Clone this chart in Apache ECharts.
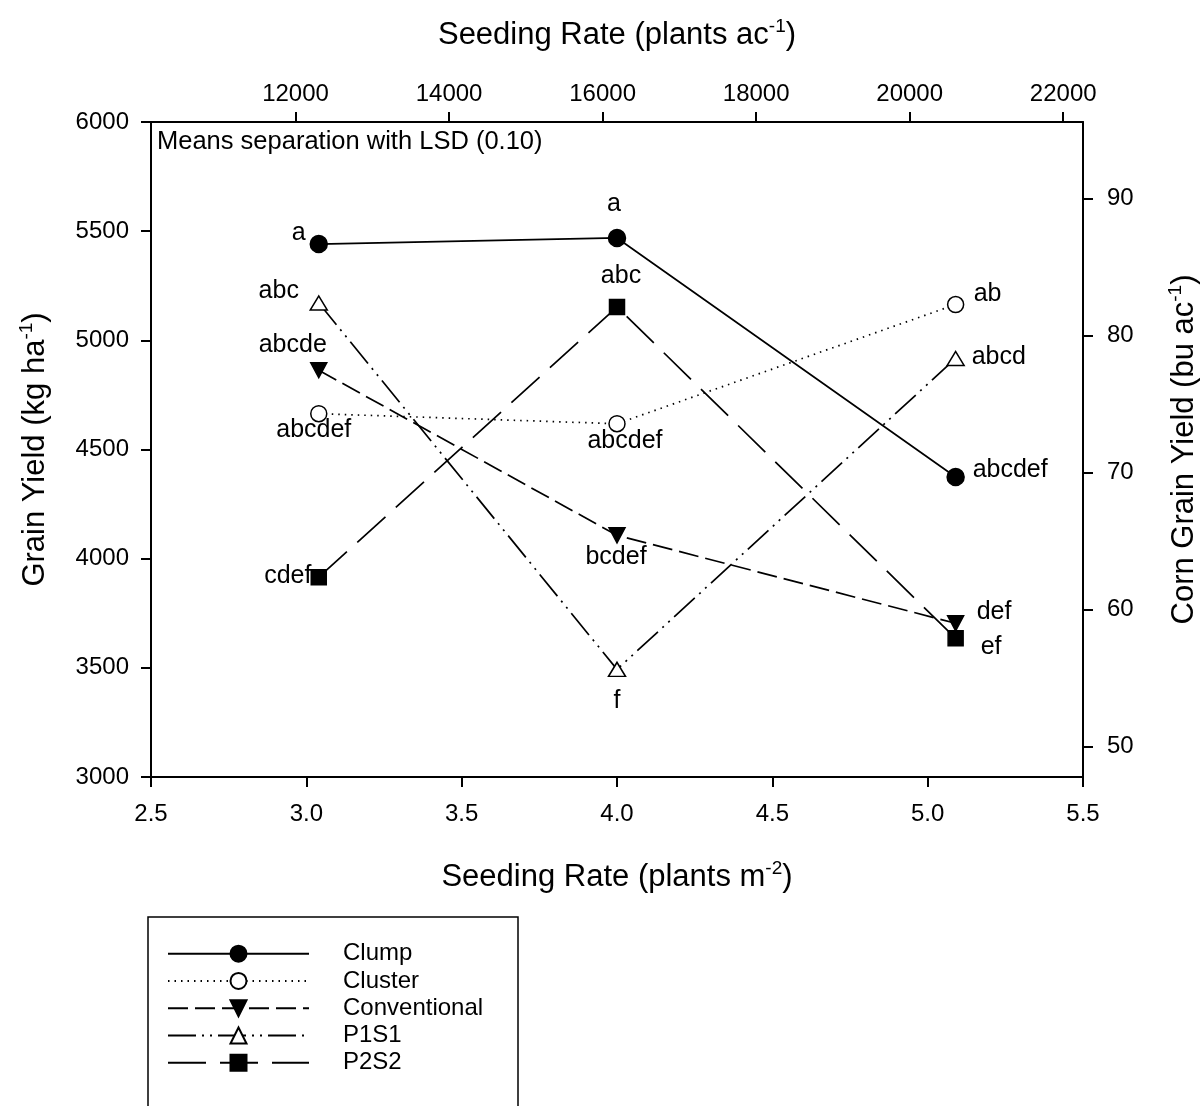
<!DOCTYPE html>
<html>
<head>
<meta charset="utf-8">
<title>Seeding rate and grain yield</title>
<script src="https://cdn.jsdelivr.net/npm/echarts@6/dist/echarts.min.js"></script>
<style>
  html, body { margin: 0; padding: 0; background: #fff; }
  #chart { width: 1204px; height: 1106px; }
</style>
</head>
<body>
<div id="chart"></div>
<script>
// Seeding rates (plants m^-2) and mean grain yield (kg ha^-1) per planting pattern
const rateM2 = [3.04, 4.00, 5.09];
const clump = [5441, 5469, 4374];
const cluster = [4664, 4618, 5164];
const conventional = [4863, 4107, 3704];
const p1s1 = [5171, 3493, 4917];
const p2s2 = [3915, 5153, 3635];

// LSD (0.10) letter groups for each mean
const clumpLsd = ['a', 'a', 'abcdef'];
const clusterLsd = ['abcdef', 'abcdef', 'ab'];
const conventionalLsd = ['abcde', 'bcdef', 'def'];
const p1s1Lsd = ['abc', 'f', 'abcd'];
const p2s2Lsd = ['cdef', 'abc', 'ef'];

// Tick labels
const rateM2Ticks = [2.5, 3.0, 3.5, 4.0, 4.5, 5.0, 5.5];
const yieldTicks = [3000, 3500, 4000, 4500, 5000, 5500, 6000];
const rateAcTicks = [12000, 14000, 16000, 18000, 20000, 22000];
const buAcTicks = [50, 60, 70, 80, 90];

// Unit conversions for the secondary axes
const PLANTS_AC_PER_M2 = 4046.856;
const KG_HA_PER_BU_AC = 62.767;

const FONT = "'Liberation Sans', Arial, Helvetica, sans-serif";
const BLACK = '#000';

// Where each letter sits relative to its marker: [align, dx, dy]
const letterPlacement = {
  Clump: [['center', -20, -11], ['center', -3, -34], ['left', 17, -7]],
  Cluster: [['center', -5, 16], ['center', 8, 17], ['left', 18, -10]],
  Conventional: [['center', -26, -25], ['center', -1, 22], ['left', 21, -11]],
  P1S1: [['center', -40, -12], ['center', 0, 32], ['left', 16, -1]],
  P2S2: [['center', -31, -1], ['center', 4, -31], ['left', 25, 9]]
};

function buildData(name, values, letters) {
  return rateM2.map((x, i) => {
    const p = letterPlacement[name][i];
    return {
      value: [x, values[i]],
      label: { formatter: letters[i], align: p[0], offset: [p[1], p[2]] }
    };
  });
}

const downTriangle = 'path://M0,0 L20,0 L10,20 Z';

const seriesDefs = [
  { name: 'Clump', values: clump, letters: clumpLsd, symbol: 'circle', size: 17,
    fill: BLACK, dash: 'solid' },
  { name: 'Cluster', values: cluster, letters: clusterLsd, symbol: 'circle', size: 16,
    fill: '#fff', dash: [1.5, 5] },
  { name: 'Conventional', values: conventional, letters: conventionalLsd, symbol: downTriangle, size: [16, 15],
    fill: BLACK, dash: [20, 7] },
  { name: 'P1S1', values: p1s1, letters: p1s1Lsd, symbol: 'triangle', size: [17, 14],
    fill: '#fff', dash: [28, 6, 2, 6, 2, 6] },
  { name: 'P2S2', values: p2s2, letters: p2s2Lsd, symbol: 'rect', size: 15,
    fill: BLACK, dash: [38, 14] }
];

const series = seriesDefs.map(d => ({
  name: d.name,
  type: 'line',
  xAxisIndex: 0,
  yAxisIndex: 0,
  data: buildData(d.name, d.values, d.letters),
  symbol: d.symbol,
  symbolSize: d.size,
  showAllSymbol: true,
  itemStyle: { color: d.fill, borderColor: BLACK, borderWidth: 1.5 },
  lineStyle: { color: BLACK, width: 1.7, type: d.dash },
  label: {
    show: true,
    position: 'inside',
    color: BLACK,
    fontFamily: FONT,
    fontSize: 25,
    textBorderWidth: 0,
    textBorderColor: 'transparent'
  },
  emphasis: { disabled: true },
  z: 3
}));

const axisLine = { show: true, lineStyle: { color: BLACK, width: 2 } };
const axisTick = { show: true, inside: false, length: 10, lineStyle: { color: BLACK, width: 2 } };
const tickFont = { color: BLACK, fontFamily: FONT, fontSize: 24 };
const titleRich = {
  t: { fontFamily: FONT, fontSize: 31, color: BLACK, lineHeight: 36 },
  s: { fontFamily: FONT, fontSize: 19, color: BLACK, lineHeight: 19, verticalAlign: 'top' }
};

const option = {
  animation: false,
  backgroundColor: '#fff',
  grid: { left: 151, right: 121, top: 122, bottom: 329, containLabel: false, outerBoundsMode: 'none' },
  xAxis: [
    {
      type: 'value', position: 'bottom',
      min: rateM2Ticks[0], max: rateM2Ticks[rateM2Ticks.length - 1], interval: 0.5,
      axisLine, axisTick,
      axisLabel: { ...tickFont, margin: 25, formatter: v => v.toFixed(1) },
      splitLine: { show: false },
      name: '{t|Seeding Rate (plants m}{s|-2}{t|)}',
      nameLocation: 'middle', nameGap: 82,
      nameTextStyle: { rich: titleRich }
    },
    {
      type: 'value', position: 'top',
      min: rateM2Ticks[0] * PLANTS_AC_PER_M2,
      max: rateM2Ticks[rateM2Ticks.length - 1] * PLANTS_AC_PER_M2,
      axisLine,
      axisTick: { ...axisTick, customValues: rateAcTicks },
      axisLabel: { ...tickFont, margin: 16, customValues: rateAcTicks, formatter: v => String(v) },
      splitLine: { show: false },
      name: '{t|Seeding Rate (plants ac}{s|-1}{t|)}',
      nameLocation: 'middle', nameGap: 69,
      nameTextStyle: { rich: titleRich }
    }
  ],
  yAxis: [
    {
      type: 'value', position: 'left',
      min: yieldTicks[0], max: yieldTicks[yieldTicks.length - 1], interval: 500,
      axisLine, axisTick,
      axisLabel: { ...tickFont, margin: 22, formatter: v => String(v) },
      splitLine: { show: false },
      name: '{t|Grain Yield (kg ha}{s|-1}{t|)}',
      nameLocation: 'middle', nameGap: 98, nameRotate: 90,
      nameTextStyle: { rich: titleRich }
    },
    {
      type: 'value', position: 'right',
      min: yieldTicks[0] / KG_HA_PER_BU_AC,
      max: yieldTicks[yieldTicks.length - 1] / KG_HA_PER_BU_AC,
      axisLine,
      axisTick: { ...axisTick, customValues: buAcTicks },
      axisLabel: { ...tickFont, margin: 24, customValues: buAcTicks, formatter: v => String(v) },
      splitLine: { show: false },
      name: '{t|Corn Grain Yield (bu ac}{s|-1}{t|)}',
      nameLocation: 'middle', nameGap: 83, nameRotate: 90,
      nameTextStyle: { rich: titleRich }
    }
  ],
  legend: {
    orient: 'vertical',
    left: 148, top: 917,
    padding: [23, 0, 0, 19],
    itemGap: 0,
    itemWidth: 141, itemHeight: 20,
    borderWidth: 0,
    selectedMode: false,
    data: seriesDefs.map(d => d.name),
    textStyle: { color: BLACK, fontFamily: FONT, fontSize: 24, lineHeight: 27.3, padding: [0, 0, 0, 29] }
  },
  graphic: [
    {
      type: 'text', x: 157, y: 142, z: 10,
      style: {
        text: 'Means separation with LSD (0.10)',
        fontFamily: FONT, fontSize: 25.5, fill: BLACK,
        verticalAlign: 'middle', align: 'left'
      }
    },
    {
      // legend frame, running past the bottom edge of the page
      type: 'rect', z: 0, silent: true,
      shape: { x: 148, y: 917, width: 370, height: 300 },
      style: { fill: 'none', stroke: BLACK, lineWidth: 1.5 }
    }
  ],
  series
};

const chart = echarts.init(document.getElementById('chart'), null, { renderer: 'canvas' });
chart.setOption(option);
</script>
</body>
</html>
